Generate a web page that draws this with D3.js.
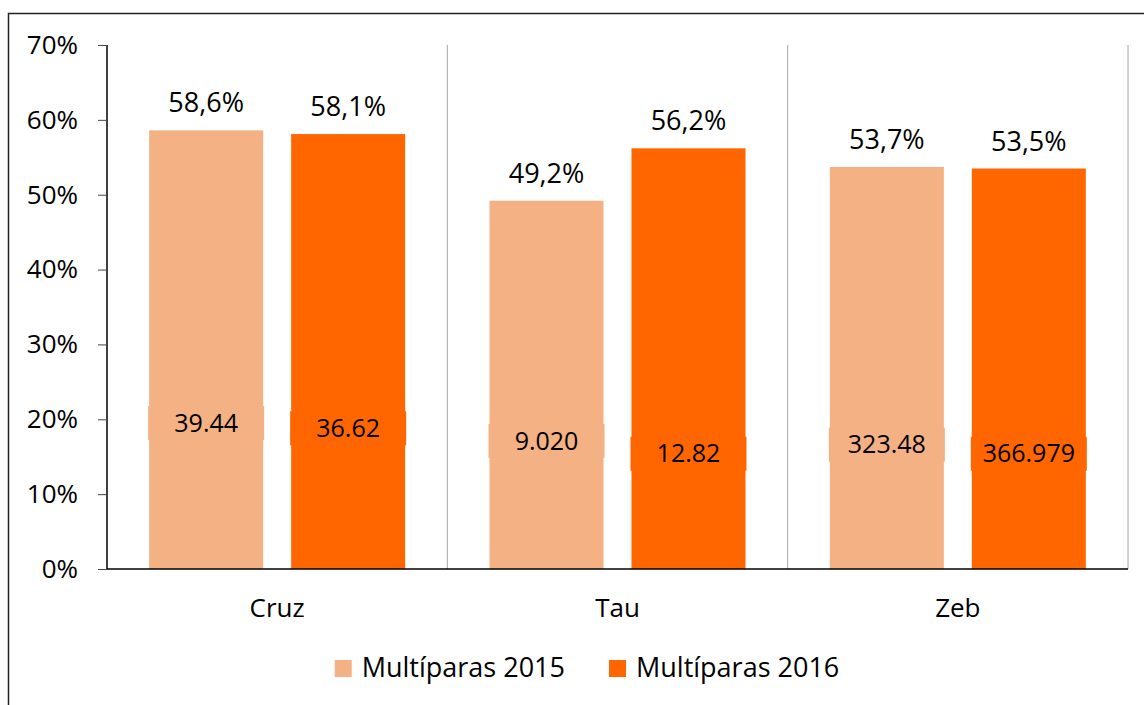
<!DOCTYPE html>
<html>
<head>
<meta charset="utf-8">
<script src="https://cdn.jsdelivr.net/npm/d3@7"></script>
<style>
  body { margin: 0; background: #fff; }
  svg text { font-family: "Open Sans", "Noto Sans", sans-serif; fill: #000; }
</style>
</head>
<body>
<svg id="chart" width="1144" height="705"></svg>
<script>
// chart data
var categories = ["Cruz", "Tau", "Zeb"];
var series = ["Multíparas 2015", "Multíparas 2016"];
var values2015 = [0.586, 0.492, 0.537];
var values2016 = [0.581, 0.562, 0.535];
var counts2015 = ["39.44", "9.020", "323.48"];
var counts2016 = ["36.62", "12.82", "366.979"];
var yTicks = [0, 0.1, 0.2, 0.3, 0.4, 0.5, 0.6, 0.7];

var colors = ["#F4B183", "#FF6600"];

var svg = d3.select("#chart");

// outer frame (runs off the right and bottom edge like the source)
svg.append("rect")
	.attr("x", 8.5).attr("y", 13.5)
	.attr("width", 1200).attr("height", 800)
	.attr("fill", "none").attr("stroke", "#222").attr("stroke-width", 1.5);

var plotLeft = 107, plotRight = 1128, plotTop = 45, plotBottom = 569;

var y = d3.scaleLinear().domain([0, 0.7]).range([plotBottom, plotTop]);
var x0 = d3.scaleBand().domain(categories).range([plotLeft, plotRight]);
var x1 = d3.scaleBand().domain(series).range([0, x0.bandwidth()])
	.paddingInner(0.197).paddingOuter(0.297);

// category separators
svg.append("g").selectAll("line")
	.data(categories)
	.enter().append("line")
		.attr("x1", function(d){ return x0(d) + x0.bandwidth(); })
		.attr("x2", function(d){ return x0(d) + x0.bandwidth(); })
		.attr("y1", plotTop).attr("y2", plotBottom)
		.attr("stroke", "#a6a6a6").attr("stroke-width", 1);

// one entry per bar
var flat = [];
categories.forEach(function(c, i){
	flat.push({cat: c, s: series[0], v: values2015[i], n: counts2015[i], color: colors[0]});
	flat.push({cat: c, s: series[1], v: values2016[i], n: counts2016[i], color: colors[1]});
});

svg.append("g").selectAll("rect")
	.data(flat)
	.enter().append("rect")
		.attr("x", function(d){ return x0(d.cat) + x1(d.s); })
		.attr("y", function(d){ return y(d.v); })
		.attr("width", x1.bandwidth())
		.attr("height", function(d){ return y(0) - y(d.v); })
		.attr("fill", function(d){ return d.color; });

// percentage labels above the bars
svg.append("g").selectAll("text")
	.data(flat)
	.enter().append("text")
		.attr("x", function(d){ return x0(d.cat) + x1(d.s) + x1.bandwidth() / 2; })
		.attr("y", function(d){ return y(d.v) - 18; })
		.attr("text-anchor", "middle")
		.style("font-size", "27px")
		.text(function(d){ return d3.format(".1%")(d.v).replace(".", ","); });

// count labels inside the bars (placed by hand in the source, offsets in %)
var countAt = [0.195, 0.188, 0.171, 0.154, 0.166, 0.154];
var inner = svg.append("g").selectAll("g")
	.data(flat)
	.enter().append("g");
inner.append("rect")
	.attr("x", function(d){ return x0(d.cat) + x1(d.s) - 1; })
	.attr("y", function(d, i){ return y(countAt[i]) - 17; })
	.attr("width", x1.bandwidth() + 2)
	.attr("height", 34)
	.attr("fill", function(d){ return d.color; });
inner.append("text")
	.attr("x", function(d){ return x0(d.cat) + x1(d.s) + x1.bandwidth() / 2; })
	.attr("y", function(d, i){ return y(countAt[i]); })
	.attr("dy", "0.35em")
	.attr("text-anchor", "middle")
	.style("font-size", "25px")
	.text(function(d){ return d.n; });

// y axis
var yAxis = svg.append("g")
	.attr("transform", "translate(" + plotLeft + ",0)")
	.call(d3.axisLeft(y).tickValues(yTicks).tickFormat(d3.format(".0%")).tickSize(9).tickPadding(20));
yAxis.select(".domain").attr("stroke", "#000").attr("stroke-width", 1.5)
	.attr("d", "M0," + plotTop + "V" + plotBottom);
yAxis.selectAll(".tick line").attr("stroke", "#444");
yAxis.selectAll(".tick text").style("font-size", "26px").style("font-family", "'Open Sans', sans-serif");

// x axis line and category names
svg.append("line")
	.attr("x1", plotLeft).attr("x2", plotRight)
	.attr("y1", plotBottom).attr("y2", plotBottom)
	.attr("stroke", "#000").attr("stroke-width", 1.5);

svg.append("g").selectAll("text")
	.data(categories)
	.enter().append("text")
		.attr("x", function(d){ return x0(d) + x0.bandwidth() / 2; })
		.attr("y", 608)
		.attr("dy", "0.35em")
		.attr("text-anchor", "middle")
		.style("font-size", "26px")
		.text(function(d){ return d; });

// legend
var legend = svg.append("g");
var items = legend.selectAll("g")
	.data(series)
	.enter().append("g");
items.append("rect")
	.attr("width", 17).attr("height", 17)
	.attr("y", 660)
	.attr("fill", function(d, i){ return colors[i]; });
items.append("text")
	.attr("x", 27)
	.attr("y", 668)
	.attr("dy", "0.35em")
	.style("font-size", "27px")
	.text(function(d){ return d; });

var widths = [];
items.each(function(){ widths.push(this.getBBox().width); });
var gap = 44;
var total = d3.sum(widths) + gap * (widths.length - 1);
var start = 587 - total / 2;
items.attr("transform", function(d, i){
	var off = start + d3.sum(widths.slice(0, i)) + gap * i;
	return "translate(" + off + ",0)";
});
</script>
</body>
</html>
